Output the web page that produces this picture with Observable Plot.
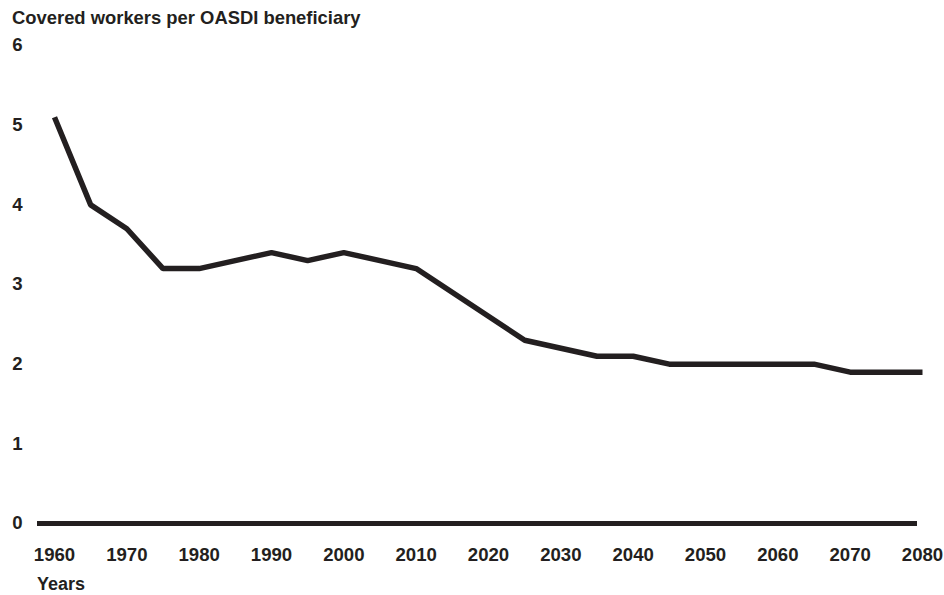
<!DOCTYPE html>
<html>
<head>
<meta charset="utf-8">
<script src="https://cdn.jsdelivr.net/npm/d3@7"></script>
<script src="https://cdn.jsdelivr.net/npm/@observablehq/plot@0.6"></script>
<style>
  html, body { margin: 0; padding: 0; background: #fff; }
  body { width: 944px; height: 595px; overflow: hidden; font-family: "Liberation Sans", Arial, sans-serif; color: #231f20; }
  .title { height: 34px; line-height: 36px; padding-left: 12px; font-size: 18.4px; font-weight: bold; white-space: nowrap; }
  .xlabel { padding-top: 7px; line-height: 24px; height: 23px; padding-left: 37px; font-size: 18px; font-weight: bold; }
  svg { display: block; }
</style>
</head>
<body>
<div class="title">Covered workers per OASDI beneficiary</div>
<div id="chart"></div>
<div class="xlabel">Years</div>
<script>
const years = [1960, 1965, 1970, 1975, 1980, 1990, 1995, 2000, 2010, 2025, 2035, 2040, 2045, 2065, 2070, 2080];
const workersPerBeneficiary = [5.1, 4.0, 3.7, 3.2, 3.2, 3.4, 3.3, 3.4, 3.2, 2.3, 2.1, 2.1, 2.0, 2.0, 1.9, 1.9];
const xTicks = [1960, 1970, 1980, 1990, 2000, 2010, 2020, 2030, 2040, 2050, 2060, 2070, 2080];
const yTicks = [0, 1, 2, 3, 4, 5, 6];

const data = years.map((y, i) => ({year: y, value: workersPerBeneficiary[i]}));
const ink = "#231f20";

const chart = Plot.plot({
  width: 944,
  height: 531,
  marginTop: 11,
  marginBottom: 42,
  marginLeft: 37,
  marginRight: 27,
  style: {fontFamily: "'Liberation Sans', Arial, sans-serif", fontSize: "18.6px", fontWeight: "bold", color: ink, background: "#fff"},
  x: {domain: [1960, 2080], range: [54, 922]},
  y: {domain: [0, 6]},
  marks: [
    Plot.axisY({ticks: yTicks, tickSize: 0, tickPadding: 15, label: null, tickFormat: d => String(d)}),
    Plot.axisX({ticks: xTicks, tickSize: 0, tickPadding: 24, label: null, tickFormat: d => String(d)}),
    Plot.ruleY([0], {stroke: ink, strokeWidth: 5}),
    Plot.line(data, {x: "year", y: "value", stroke: ink, strokeWidth: 5.5, strokeLinejoin: "miter", strokeLinecap: "butt"})
  ]
});
document.getElementById("chart").appendChild(chart);
</script>
</body>
</html>
